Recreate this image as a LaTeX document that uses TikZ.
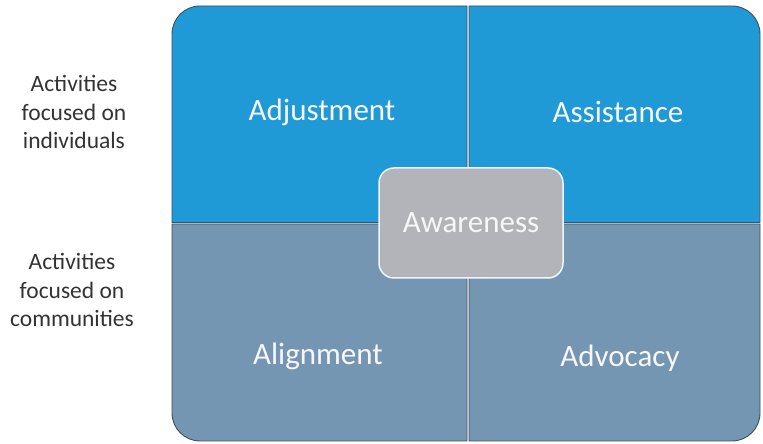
\documentclass[tikz,border=0pt]{standalone}
\usepackage{fontspec}
\setmainfont{Carlito}
\definecolor{topblue}{HTML}{1F9AD6}
\definecolor{lowblue}{HTML}{7596B3}
\definecolor{midgray}{HTML}{B2B4BA}
\definecolor{edgegray}{HTML}{3E4E5E}
\tikzset{
  quadtop/.style={fill=topblue,draw=edgegray,line width=0.9pt},
  quadlow/.style={fill=lowblue,draw=edgegray,line width=0.9pt},
  qlabel/.style={text=white!94!gray,font=\fontsize{31}{36}\selectfont},
  sidelabel/.style={align=center,text=black!80,font=\fontsize{23.5}{28.5}\selectfont}
}
\begin{document}
\begin{tikzpicture}[x=1pt,y=1pt]
			\useasboundingbox (0,0) rectangle (763,444);
			\draw[quadtop] (172,221.5) -- (172,410) arc[start angle=180,end angle=90,radius=28] -- (467,438) -- (467,221.5) -- cycle;
			\draw[quadtop] (469,221.5) -- (469,438) -- (732,438) arc[start angle=90,end angle=0,radius=28] -- (760,221.5) -- cycle;
			\draw[quadlow] (172,220) -- (172,31) arc[start angle=180,end angle=270,radius=28] -- (467,3) -- (467,220) -- cycle;
			\draw[quadlow] (469,220) -- (469,3) -- (732,3) arc[start angle=270,end angle=360,radius=28] -- (760,220) -- cycle;
			\node[qlabel] (adjust) at (322,332) {Adjustment};
			\node[qlabel] (assist) at (618,332) {Assistance};
			\node[qlabel] (align) at (318,88) {Alignment};
			\node[qlabel] (advoc) at (620,86) {Advocacy};
			\node[qlabel,fill=midgray,draw=white!92!topblue,line width=1.5pt,rounded corners=15pt,
			  minimum width=184pt,minimum height=110pt,inner sep=0pt] (aware) at (471,221) {Awareness};
			\node[sidelabel] (indiv) at (74,332) {Activities\\focused on\\individuals};
			\node[sidelabel] (commun) at (72,154) {Activities\\focused on\\communities};
		\end{tikzpicture}
\end{document}
